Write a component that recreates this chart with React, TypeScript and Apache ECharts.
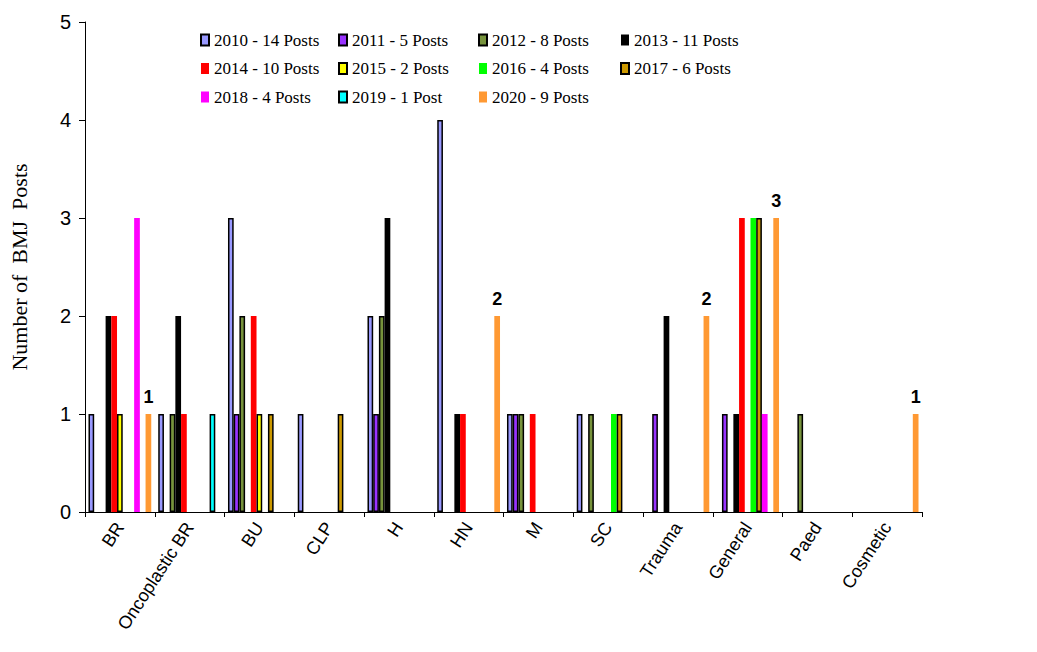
import React, { useEffect, useRef } from "react";
import * as echarts from "echarts";

const categories = ["BR", "Oncoplastic BR", "BU", "CLP", "H", "HN", "M", "SC", "Trauma", "General", "Paed", "Cosmetic"];

const seriesNames = [
  "2010 - 14 Posts",
  "2011 - 5 Posts",
  "2012 - 8 Posts",
  "2013 - 11 Posts",
  "2014 - 10 Posts",
  "2015 - 2 Posts",
  "2016 - 4 Posts",
  "2017 - 6 Posts",
  "2018 - 4 Posts",
  "2019 - 1 Post",
  "2020 - 9 Posts",
];

const v2010 = [1, 1, 3, 1, 2, 4, 1, 1, 0, 0, 0, 0];
const v2011 = [0, 0, 1, 0, 1, 0, 1, 0, 1, 1, 0, 0];
const v2012 = [0, 1, 2, 0, 2, 0, 1, 1, 0, 0, 1, 0];
const v2013 = [2, 2, 0, 0, 3, 1, 0, 0, 2, 1, 0, 0];
const v2014 = [2, 1, 2, 0, 0, 1, 1, 0, 0, 3, 0, 0];
const v2015 = [1, 0, 1, 0, 0, 0, 0, 0, 0, 0, 0, 0];
const v2016 = [0, 0, 0, 0, 0, 0, 0, 1, 0, 3, 0, 0];
const v2017 = [0, 0, 1, 1, 0, 0, 0, 1, 0, 3, 0, 0];
const v2018 = [3, 0, 0, 0, 0, 0, 0, 0, 0, 1, 0, 0];
const v2019 = [0, 1, 0, 0, 0, 0, 0, 0, 0, 0, 0, 0];
const v2020 = [1, 0, 0, 0, 0, 2, 0, 0, 2, 3, 0, 1];

const allValues = [v2010, v2011, v2012, v2013, v2014, v2015, v2016, v2017, v2018, v2019, v2020];
const colors = ["#9999FF", "#9933FF", "#77933C", "#000000", "#FF0000", "#FFFF00", "#00FF00", "#CC9900", "#FF00FF", "#00FFFF", "#FF9933"];
const bordered = [true, true, true, false, false, true, false, true, false, true, false];

const legendColumns = [
  [0, 4, 8],
  [1, 5, 9],
  [2, 6, 10],
  [3, 7],
];
const legendLefts = [200, 338, 478, 620];

export default function App() {
  const ref = useRef<HTMLDivElement>(null);
  useEffect(() => {
    if (!ref.current) return;
    const chart = echarts.init(ref.current, undefined, { renderer: "svg" });
    const series = allValues.map((vals, i) => ({
      name: seriesNames[i],
      type: "bar",
      barGap: "0%",
      barCategoryGap: "10%",
      data: vals.map((v) => (v === 0 ? null : v)),
      itemStyle: {
        color: colors[i],
        borderColor: bordered[i] ? "#000000" : colors[i],
        borderWidth: bordered[i] ? 1.5 : 0,
      },
      label:
        i === 10
          ? {
              show: true,
              position: "top",
              distance: 8,
              fontFamily: "Liberation Sans, Arial",
              fontWeight: "bold",
              fontSize: 18,
              color: "#000",
            }
          : { show: false },
    }));
    const legends = legendColumns.map((col, ci) => ({
      orient: "vertical",
      left: legendLefts[ci],
      top: 31,
      padding: 0,
      itemWidth: 8,
      itemHeight: 11,
      itemGap: 10.5,
      icon: "rect",
      selectedMode: false,
      data: col.map((k) => seriesNames[k]),
      textStyle: {
        fontFamily: "Liberation Serif, Times New Roman",
        fontSize: 17,
        lineHeight: 18,
        color: "#000",
      },
    }));
    chart.setOption({
      animation: false,
      backgroundColor: "#ffffff",
      legend: legends,
      grid: { left: 84, right: 115, top: 22, bottom: 140, containLabel: false },
      xAxis: {
        type: "category",
        data: categories,
        axisLine: { show: true, lineStyle: { color: "#000", width: 1 } },
        axisTick: { show: true, length: 5, lineStyle: { color: "#000" } },
        axisLabel: {
          rotate: 57,
          margin: 12,
          fontFamily: "Liberation Sans, Arial",
          fontSize: 18,
          color: "#000",
          interval: 0,
        },
      },
      yAxis: {
        type: "value",
        min: 0,
        max: 5,
        interval: 1,
        name: "Number of  BMJ  Posts",
        nameLocation: "middle",
        nameGap: 55,
        nameTextStyle: {
          fontFamily: "Liberation Serif, Times New Roman",
          fontSize: 22,
          color: "#000",
        },
        axisLine: { show: true, lineStyle: { color: "#000", width: 1 } },
        axisTick: { show: true, length: 6, lineStyle: { color: "#000" } },
        splitLine: { show: false },
        axisLabel: {
          margin: 14,
          fontFamily: "Liberation Sans, Arial",
          fontSize: 20,
          color: "#000",
        },
      },
      series,
    });
    return () => chart.dispose();
  }, []);
  return (
    <div
      ref={ref}
      style={{ position: "fixed", left: 0, top: 0, width: 1037, height: 652, background: "#fff" }}
    />
  );
}
